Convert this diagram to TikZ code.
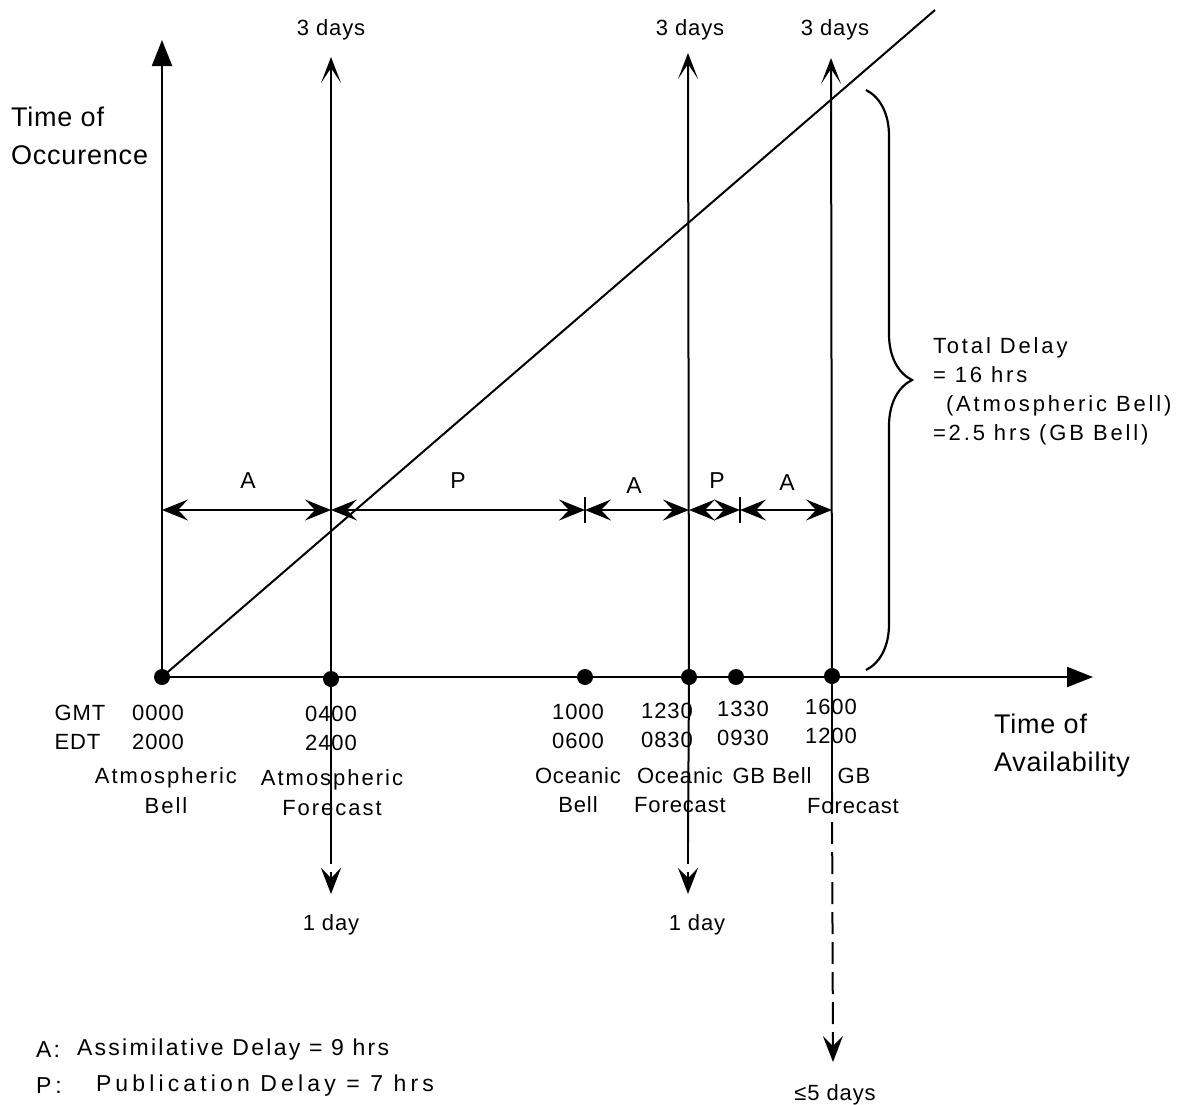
\documentclass[tikz,border=0pt]{standalone}
\usepackage{fontspec}
\setmainfont{Liberation Sans}
\usetikzlibrary{arrows.meta,decorations.pathreplacing}
\newcommand{\trk}[1]{\addfontfeatures{LetterSpace=#1}}
\begin{document}
\begin{tikzpicture}[x=0.5pt,y=-0.5pt,line width=1pt,
  axis/.style={line width=1.1pt,-{Triangle[length=13pt,width=10pt]}},
  upline/.style={line width=1pt,-{Stealth[length=13pt,width=10pt,inset=7.5pt]}},
  dimline/.style={line width=1pt,{Stealth[length=13pt,width=10.5pt,inset=5pt]}-{Stealth[length=13pt,width=10.5pt,inset=5pt]}},
  downline/.style={line width=1pt,dash pattern=on 11pt off 4pt,-{Stealth[length=13pt,width=10pt,inset=5pt]}},
  dot/.style={circle,fill,inner sep=0pt,minimum size=8pt},
  lbl/.style={inner sep=0pt,align=center,font=\fontsize{11}{14.5}\selectfont\trk{4}},
  atm/.style={inner sep=0pt,align=center,font=\fontsize{11}{15}\selectfont\trk{9}},
  big/.style={inner sep=0pt,align=left,font=\fontsize{13.5}{19}\selectfont\trk{3}},
  tot/.style={inner sep=0pt,align=left,font=\fontsize{11}{14.5}\selectfont\trk{13}},
  leg/.style={inner sep=0pt,anchor=west},
  dimlbl/.style={inner sep=0pt,font=\fontsize{11.5}{14}\selectfont}
]
\useasboundingbox (0,0) rectangle (1182,1104);

% axes
\node[dot] (bellA) at (162,677) {};
\coordinate (ytip) at (162,40);
\coordinate (xtip) at (1093,677);
\coordinate (diagEnd) at (935,10);
\draw[axis] (bellA.center) -- (ytip);
\draw[axis] (bellA.center) -- (xtip);
\draw[line width=1pt] (bellA.center) -- (diagEnd);

% event dots
\node[dot] (fcA) at (331,679) {};
\node[dot] (bellO) at (585,677) {};
\node[dot] (fcO) at (689,677) {};
\node[dot] (bellG) at (736,677) {};
\node[dot] (fcG) at (832,676) {};

% forecast lines
\coordinate (fcAtop) at (331,57);
\coordinate (fcOtop) at (688,53);
\coordinate (fcGtop) at (831,58);
\coordinate (fcAmid) at (331,842);
\coordinate (fcOmid) at (688,842);
\coordinate (fcGmid) at (832,792);
\coordinate (fcAbot) at (331,894);
\coordinate (fcObot) at (688,894);
\coordinate (fcGbot) at (833,1062);
\draw[upline] (fcA.center) -- (fcAtop);
\draw[upline] (fcO.center) -- (fcOtop);
\draw[upline] (fcG.center) -- (fcGtop);
\draw (fcA.center) -- (fcAmid);
\draw (fcO.center) -- (fcOmid);
\draw (fcG.center) -- (fcGmid);
\draw[downline] (fcAmid) -- (fcAbot);
\draw[downline] (fcOmid) -- (fcObot);
\draw[downline] (fcGmid) -- (fcGbot);

\node[lbl,anchor=base] (t3a) at (331,35) {3 days};
\node[lbl,anchor=base] (t3o) at (690,35) {3 days};
\node[lbl,anchor=base] (t3g) at (835,35) {3 days};
\node[lbl,anchor=base] (t1a) at (331,930) {1 day};
\node[lbl,anchor=base] (t1o) at (697,930) {1 day};
\node[lbl,anchor=base] (t5g) at (835,1100) {≤5 days};

% delay dimension line
\coordinate (m1) at (162,510);
\coordinate (m2) at (331,510);
\coordinate (m3) at (585,510);
\coordinate (m4) at (689,510);
\coordinate (m5) at (740,510);
\coordinate (m6) at (832,510);
\draw[dimline] (m1) -- (m2);
\draw[dimline] (m2) -- (m3);
\draw[dimline] (m3) -- (m4);
\draw[dimline] (m4) -- (m5);
\draw[dimline] (m5) -- (m6);
\draw (m3) ++(0,-13) -- ++(0,26);
\draw (m5) ++(0,-13) -- ++(0,26);
\node[dimlbl] (lA1) at (248,481) {A};
\node[dimlbl] (lP1) at (458,481) {P};
\node[dimlbl] (lA2) at (634,486) {A};
\node[dimlbl] (lP2) at (717,481) {P};
\node[dimlbl] (lA3) at (787,483) {A};

% brace
\coordinate (brTop) at (866,90);
\coordinate (brBot) at (866,670);
\draw[line width=1.1pt,decorate,decoration={brace,amplitude=23pt}] (brTop) -- (brBot);
\node[tot,anchor=north west] (total) at (932,337) {Total Delay\\= 16 hrs\\\hspace*{6.5pt}(Atmospheric Bell)\\=2.5 hrs (GB Bell)};

% axis titles
\node[big,anchor=north west] (occ) at (10,106) {Time of\\Occurence};
\node[big,anchor=north west] (avail) at (993,713) {Time of\\Availability};

% time labels
\node[lbl,align=left] (zones) at (80,727) {GMT\\EDT};
\node[lbl] (tA) at (158,727) {0000\\2000};
\node[atm] (nA) at (166,791) {Atmospheric\\Bell};
\node[lbl] (tAF) at (331,728) {0400\\2400};
\node[atm] (nAF) at (332,793) {Atmospheric\\Forecast};
\node[lbl] (tO) at (578,726) {1000\\0600};
\node[lbl] (nO) at (578,790) {Oceanic\\Bell};
\node[lbl] (tOF) at (667,725) {1230\\0830};
\node[lbl] (nOF) at (680,790) {Oceanic\\Forecast};
\node[lbl] (tG) at (743,723) {1330\\0930};
\node[lbl,anchor=base] (nG) at (772,783) {GB Bell};
\node[lbl] (tGF) at (831,721) {1600\\1200};
\node[lbl,anchor=base] (nGF1) at (854,783) {GB};
\node[lbl,anchor=base] (nGF2) at (853,813) {Forecast};

% legend
\node[leg,font=\fontsize{11.5}{14}\selectfont\trk{10}] (legA1) at (35,1050) {A:};
\node[leg,font=\fontsize{11.5}{14}\selectfont\trk{10}] (legA2) at (76,1050) {Assimilative Delay = 9 hrs};
\node[leg,font=\fontsize{11.5}{14}\selectfont\trk{18}] (legP1) at (35,1086) {P:};
\node[leg,font=\fontsize{11.5}{14}\selectfont\trk{18}] (legP2) at (95,1086) {Publication Delay = 7 hrs};
\end{tikzpicture}
\end{document}
